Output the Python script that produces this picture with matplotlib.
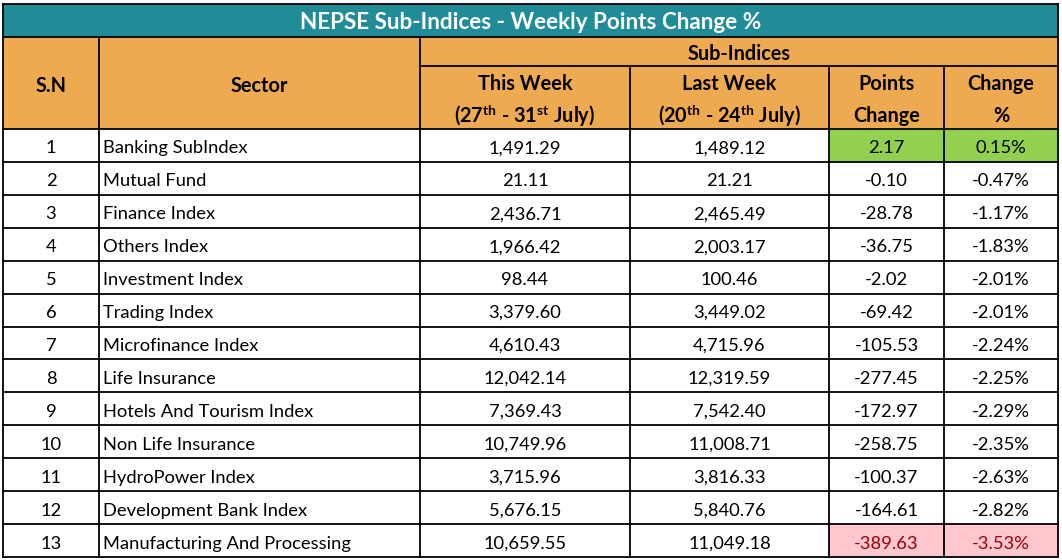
import matplotlib
matplotlib.use("Agg")
import matplotlib.pyplot as plt
from matplotlib.patches import Rectangle

plt.rcParams["font.family"] = ["Lato", "DejaVu Sans"]
plt.rcParams["mathtext.fontset"] = "custom"
plt.rcParams["mathtext.bf"] = "Lato:bold"
plt.rcParams["mathtext.rm"] = "Lato:bold"

TITLE = "NEPSE Sub-Indices - Weekly Points Change %"
sectors = ["Banking SubIndex", "Mutual Fund", "Finance Index", "Others Index",
           "Investment Index", "Trading Index", "Microfinance Index",
           "Life Insurance", "Hotels And Tourism Index", "Non Life Insurance",
           "HydroPower Index", "Development Bank Index",
           "Manufacturing And Processing"]
this_week = [1491.29, 21.11, 2436.71, 1966.42, 98.44, 3379.60, 4610.43,
             12042.14, 7369.43, 10749.96, 3715.96, 5676.15, 10659.55]
last_week = [1489.12, 21.21, 2465.49, 2003.17, 100.46, 3449.02, 4715.96,
             12319.59, 7542.40, 11008.71, 3816.33, 5840.76, 11049.18]
points_change = [2.17, -0.10, -28.78, -36.75, -2.02, -69.42, -105.53,
                 -277.45, -172.97, -258.75, -100.37, -164.61, -389.63]
change_pct = [0.15, -0.47, -1.17, -1.83, -2.01, -2.01, -2.24, -2.25,
              -2.29, -2.35, -2.63, -2.82, -3.53]

TEAL = "#1F8C97"
ORANGE = "#EEAA50"
GREEN = "#92D050"
PINK = "#FFC7CE"
DARKRED = "#9C0006"

W, H = 1062, 560
fig = plt.figure(figsize=(W / 100, H / 100), dpi=100)
ax = fig.add_axes([0, 0, 1, 1])
ax.set_xlim(0, W)
ax.set_ylim(H, 0)
ax.axis("off")

cols = [3, 99, 420, 630, 829, 944, 1058]
y_top, y_title, y_sub, y_head = 4, 37, 66, 129
y_bot = 557
n = len(sectors)
rh = (y_bot - y_head) / n
FS = 13.2
HFS = 14.3
LW = 1.3


def rect(x0, y0, x1, y1, fc):
    ax.add_patch(Rectangle((x0, y0), x1 - x0, y1 - y0, facecolor=fc,
                           edgecolor="none", zorder=1))


def line(x0, y0, x1, y1):
    ax.plot([x0, x1], [y0, y1], color="black", lw=LW, zorder=3,
            solid_capstyle="projecting")


# backgrounds
rect(cols[0], y_top, cols[-1], y_title, TEAL)
rect(cols[0], y_title, cols[-1], y_head, ORANGE)
rect(cols[0], y_head, cols[-1], y_bot, "white")

# title
ax.text((cols[0] + cols[-1]) / 2, (y_top + y_title) / 2 + 2, TITLE,
        ha="center", va="center", color="white", fontsize=16.2,
        fontweight="bold", zorder=4)

# header text
hb = dict(ha="center", va="center", fontsize=HFS, fontweight="bold",
          color="black", zorder=4)
ax.text((cols[0] + cols[1]) / 2, (y_title + y_head) / 2 + 3, "S.N", **hb)
ax.text((cols[1] + cols[2]) / 2, (y_title + y_head) / 2 + 3, "Sector", **hb)
ax.text((cols[2] + cols[-1]) / 2, (y_title + y_sub) / 2 + 3, "Sub-Indices", **hb)
r1, r2 = 84, 116
ax.text((cols[2] + cols[3]) / 2, r1, "This Week", **hb)
ax.text((cols[2] + cols[3]) / 2, r2,
        r"(27$^{\mathbf{th}}$ - 31$^{\mathbf{st}}$ July)", **hb)
ax.text((cols[3] + cols[4]) / 2, r1, "Last Week", **hb)
ax.text((cols[3] + cols[4]) / 2, r2,
        r"(20$^{\mathbf{th}}$ - 24$^{\mathbf{th}}$ July)", **hb)
ax.text((cols[4] + cols[5]) / 2, r1, "Points", **hb)
ax.text((cols[4] + cols[5]) / 2, r2, "Change", **hb)
ax.text((cols[5] + cols[6]) / 2, r1, "Change", **hb)
ax.text((cols[5] + cols[6]) / 2, r2, "%", **hb)

# data rows
for i in range(n):
    y0 = y_head + i * rh
    yc = y0 + rh / 2 + 3
    tc = "black"
    if points_change[i] > 0:
        rect(cols[4], y0, cols[6], y0 + rh, GREEN)
    elif i == n - 1:
        rect(cols[4], y0, cols[6], y0 + rh, PINK)
        tc = DARKRED
    kw = dict(va="center", fontsize=FS, zorder=4)
    ax.text((cols[0] + cols[1]) / 2, yc, str(i + 1), ha="center", **kw)
    ax.text(cols[1] + 4, yc, sectors[i], ha="left", **kw)
    ax.text((cols[2] + cols[3]) / 2, yc, f"{this_week[i]:,.2f}", ha="center", **kw)
    ax.text((cols[3] + cols[4]) / 2, yc, f"{last_week[i]:,.2f}", ha="center", **kw)
    ax.text((cols[4] + cols[5]) / 2, yc, f"{points_change[i]:.2f}",
            ha="center", color=tc, **kw)
    ax.text((cols[5] + cols[6]) / 2, yc, f"{change_pct[i]:.2f}%",
            ha="center", color=tc, **kw)

# grid lines
line(cols[0], y_top, cols[-1], y_top)
line(cols[0], y_title, cols[-1], y_title)
line(cols[2], y_sub, cols[-1], y_sub)
for i in range(n + 1):
    y = y_head + i * rh
    line(cols[0], y, cols[-1], y)
line(cols[0], y_top, cols[0], y_bot)
line(cols[-1], y_top, cols[-1], y_bot)
line(cols[1], y_title, cols[1], y_bot)
line(cols[2], y_title, cols[2], y_bot)
for c in cols[3:-1]:
    line(c, y_sub, c, y_bot)

fig.savefig("out.png", dpi=100)
